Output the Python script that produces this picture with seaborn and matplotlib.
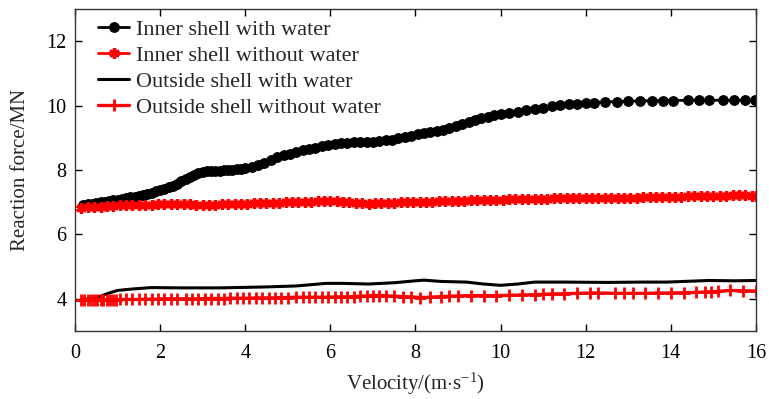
import numpy as np
import pandas as pd
import matplotlib
matplotlib.use("Agg")
import matplotlib.pyplot as plt
import seaborn as sns

# ---------------- data ----------------
iw_x = [0.2,0.3,0.4,0.5,0.6,0.7,0.8,0.9,1.0,1.1,1.2,1.3,1.4,1.5,1.6,1.7,1.8,1.9,2.0,2.1,
        2.2,2.3,2.4,2.5,2.6,2.7,2.8,2.9,3.0,3.1,3.2,3.3,3.4,3.5,3.6,3.7,3.8,3.9,4.0,
        4.15,4.3,4.45,4.6,4.75,4.9,5.05,5.2,5.35,5.5,5.65,5.8,5.95,6.1,6.25,6.4,6.55,6.7,6.85,7.0,
        7.15,7.3,7.45,7.6,7.75,7.9,8.05,8.2,8.35,8.5,8.65,8.8,8.95,9.1,9.25,9.4,9.55,9.7,9.85,10.0,
        10.2,10.4,10.6,10.8,11.0,11.2,11.4,11.6,11.8,12.0,12.2,
        12.45,12.73,13.0,13.28,13.56,13.82,14.05,14.4,14.66,14.9,15.23,15.48,15.74,15.98]
iw_y = [6.93,6.94,6.96,6.98,7.0,7.02,7.04,7.06,7.08,7.1,7.12,7.15,7.17,7.2,7.23,7.26,7.3,7.34,7.38,7.42,
        7.47,7.52,7.58,7.65,7.72,7.78,7.85,7.9,7.94,7.96,7.97,7.97,7.98,7.99,8.0,8.01,8.02,8.03,8.05,
        8.1,8.15,8.23,8.32,8.4,8.46,8.51,8.56,8.61,8.66,8.7,8.75,8.79,8.82,8.84,8.85,8.86,8.86,8.87,8.88,
        8.9,8.92,8.95,8.99,9.03,9.07,9.11,9.14,9.18,9.22,9.26,9.31,9.36,9.43,9.5,9.57,9.62,9.66,9.7,9.73,
        9.77,9.82,9.86,9.9,9.94,9.98,10.01,10.04,10.06,10.08,10.1,
        10.12,10.13,10.14,10.15,10.16,10.16,10.16,10.17,10.17,10.17,10.17,10.17,10.17,10.17]

iwo_x = [0.15,0.3,0.45,0.6,0.75,0.9,1.05,1.2,1.35,1.5,1.65,1.8,1.95,2.1,2.25,2.4,2.55,2.7,2.85,3.0,
         3.15,3.3,3.45,3.6,3.75,3.9,4.05,4.2,4.35,4.5,4.65,4.8,4.95,5.1,5.25,5.4,5.55,5.7,5.85,6.0,
         6.15,6.3,6.45,6.6,6.75,6.9,7.05,7.2,7.35,7.5,7.65,7.8,7.95,8.1,8.25,8.4,8.55,8.7,8.85,9.0,
         9.15,9.3,9.45,9.6,9.75,9.9,10.05,10.2,10.35,10.5,10.65,10.8,10.95,11.1,11.25,11.4,11.55,11.7,11.85,12.0,
         12.15,12.3,12.45,12.6,12.75,12.9,13.05,13.2,13.35,13.5,13.65,13.8,13.95,14.1,14.25,14.4,14.55,14.7,14.85,15.0,
         15.15,15.3,15.45,15.6,15.75,15.9,16.0]
iwo_y = [6.83,6.84,6.85,6.86,6.87,6.88,6.9,6.9,6.91,6.92,6.92,6.93,6.94,6.94,6.94,6.95,6.96,6.95,6.93,6.93,
         6.92,6.93,6.94,6.95,6.95,6.96,6.96,6.97,6.97,6.98,6.98,6.99,7.0,7.0,7.01,7.01,7.02,7.03,7.05,7.05,
         7.04,7.02,7.0,6.98,6.97,6.96,6.97,6.98,6.99,6.99,7.0,7.0,7.0,7.01,7.01,7.02,7.03,7.03,7.04,7.05,
         7.05,7.06,7.06,7.07,7.07,7.08,7.08,7.09,7.09,7.1,7.1,7.11,7.11,7.11,7.12,7.12,7.12,7.12,7.12,7.12,
         7.13,7.13,7.13,7.13,7.14,7.14,7.14,7.14,7.15,7.15,7.15,7.16,7.16,7.17,7.17,7.18,7.18,7.19,7.19,7.2,
         7.2,7.21,7.22,7.22,7.22,7.21,7.21]

ow_x = [0.15,0.4,0.6,0.8,1.0,1.3,1.8,2.5,3.4,4.5,5.2,5.9,6.3,6.9,7.5,8.0,8.2,8.6,9.2,9.6,
        10.0,10.4,10.8,11.5,12.5,13.3,13.9,14.5,14.9,15.5,16.0]
ow_y = [3.98,4.0,4.08,4.18,4.26,4.3,4.35,4.34,4.34,4.37,4.4,4.48,4.48,4.46,4.5,4.56,4.58,4.54,4.52,4.46,
        4.42,4.46,4.52,4.52,4.51,4.52,4.52,4.55,4.57,4.56,4.57]

owo_x = [0.15,0.22,0.3,0.37,0.45,0.52,0.6,0.67,0.75,0.82,0.9,0.97,1.05,1.2,1.35,1.5,1.65,1.8,1.95,2.1,
         2.25,2.4,2.6,2.75,2.9,3.05,3.2,3.35,3.5,3.65,3.8,3.95,4.1,4.25,4.4,4.55,4.7,4.85,5.0,5.2,
         5.35,5.5,5.65,5.8,5.95,6.1,6.25,6.4,6.55,6.7,6.85,7.0,7.15,7.3,7.5,7.7,7.9,8.1,8.35,8.6,
         8.8,9.0,9.3,9.6,9.9,10.2,10.5,10.8,11.0,11.2,11.5,11.8,12.1,12.3,12.7,12.9,13.1,13.4,13.7,14.0,
         14.3,14.6,14.8,14.95,15.1,15.4,15.7,16.0]
owo_y = [3.97,3.97,3.97,3.97,3.97,3.97,3.97,3.97,3.97,3.97,3.97,3.97,3.98,3.98,3.98,3.98,3.99,3.99,3.99,4.0,
         4.0,4.0,4.0,4.0,4.0,4.01,4.01,4.01,4.01,4.02,4.02,4.02,4.02,4.03,4.03,4.03,4.03,4.04,4.04,4.05,
         4.05,4.05,4.05,4.05,4.05,4.06,4.06,4.06,4.07,4.08,4.09,4.1,4.1,4.1,4.08,4.07,4.06,4.04,4.05,4.07,
         4.08,4.09,4.1,4.1,4.1,4.11,4.12,4.13,4.14,4.15,4.16,4.17,4.18,4.18,4.17,4.17,4.17,4.17,4.18,4.18,
         4.19,4.2,4.21,4.22,4.23,4.26,4.25,4.24]

labels = ["Inner shell with water", "Inner shell without water",
          "Outside shell with water", "Outside shell without water"]
x_ticks = [0, 2, 4, 6, 8, 10, 12, 14, 16]
y_ticks = [4, 6, 8, 10, 12]

# ---------------- style ----------------
sns.set_theme(style="ticks")
plt.rcParams["font.family"] = ["Liberation Serif", "DejaVu Serif"]
plt.rcParams["mathtext.fontset"] = "custom"
plt.rcParams["mathtext.rm"] = "Liberation Serif"
plt.rcParams["mathtext.it"] = "Liberation Serif:italic"

fig = plt.figure(figsize=(7.69, 3.99), dpi=100)
ax = fig.add_axes([0.0975, 0.1704, 0.8855, 0.8066])

sns.lineplot(x=iw_x, y=iw_y, ax=ax, color="black", lw=2.0, marker="o", markersize=7,
             markeredgecolor="black", markerfacecolor="black", sort=False, label=labels[0])
sns.lineplot(x=iwo_x, y=iwo_y, ax=ax, color="#ff0000", lw=2.0, marker=(6, 2, 0), markersize=7.5,
             markeredgewidth=2.4, markeredgecolor="#ff0000", sort=False, label=labels[1])
sns.lineplot(x=ow_x, y=ow_y, ax=ax, color="black", lw=2.2, sort=False, label=labels[2])
sns.lineplot(x=owo_x, y=owo_y, ax=ax, color="#ff0000", lw=2.4, marker="+", markersize=8,
             markeredgewidth=2.0, markeredgecolor="#ff0000", sort=False, label=labels[3])

ax.set_xlim(0, 16)
ax.set_ylim(3, 13)
ax.set_xticks(x_ticks)
ax.set_yticks(y_ticks)
ax.tick_params(direction="in", top=True, right=True, length=5, width=1,
               labelsize=14.5, pad=6, colors="black")
ax.tick_params(axis="x", pad=9)
ax.set_xticklabels([str(t) for t in x_ticks])
ax.set_yticklabels([str(t) for t in y_ticks])
for s in ax.spines.values():
    s.set_visible(True)
    s.set_color("#333333")
    s.set_linewidth(1.0)

ax.set_xlabel(r"Velocity/(m$\cdot$s$^{-1}$)", fontsize=15, labelpad=6)
ax.set_ylabel("Reaction force/MN", fontsize=15, labelpad=12)

leg = ax.legend(loc="upper left", frameon=False, fontsize=16, handlelength=1.4,
                handletextpad=0.3, labelspacing=0.25, borderpad=0.0, borderaxespad=0.0,
                bbox_to_anchor=(0.034, 0.969))

fig.savefig("out.png", dpi=100)
